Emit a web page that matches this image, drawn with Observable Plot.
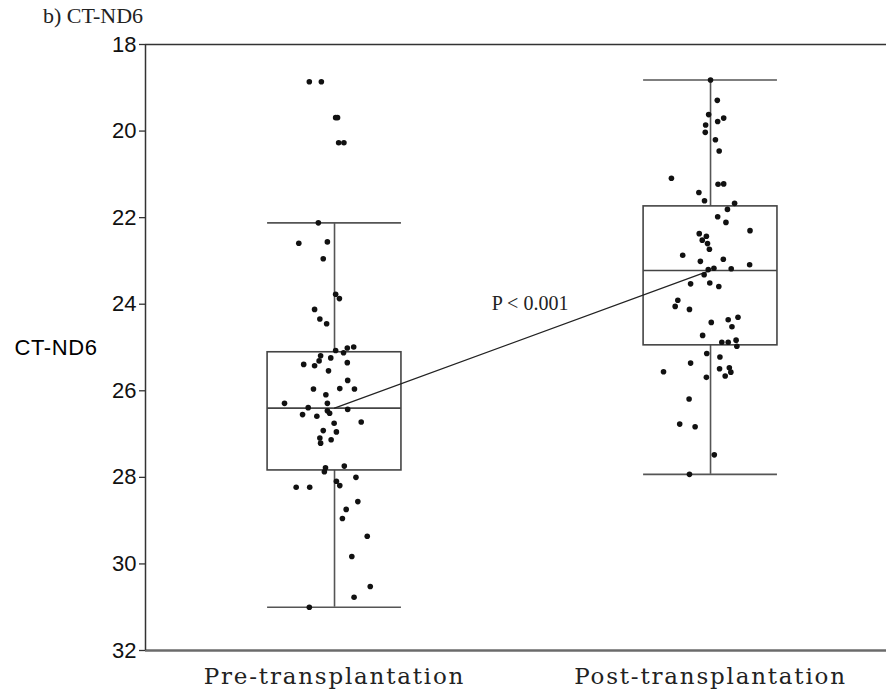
<!DOCTYPE html>
<html><head><meta charset="utf-8">
<script src="https://cdn.jsdelivr.net/npm/d3@7"></script>
<script src="https://cdn.jsdelivr.net/npm/@observablehq/plot@0.6"></script>
<style>
body{margin:0;background:#fff}
#title{position:relative;height:30px;width:886px}
#title span{position:absolute;left:43px;top:5px;font:22px "Liberation Serif",serif;line-height:1;color:#222}
#chart svg{display:block}
#chart g[aria-label="x-axis tick label"] text{letter-spacing:1.8px}
#chart g[aria-label="text"] text.ylab{letter-spacing:0.6px}
</style></head><body>
<div id="title"><span id="titletext"></span></div>
<div id="chart"></div>
<script>
const title = "b) CT-ND6";
const yLabel = "CT-ND6";
const groups = ["Pre-transplantation", "Post-transplantation"];
const groupPos = [1, 2];
const yTicks = [18, 20, 22, 24, 26, 28, 30, 32];
const yDomain = [18, 32];
// box stats: [upper whisker end, box top, median, box bottom, lower whisker end]
const preStats = [22.12, 25.11, 26.40, 27.84, 31.00];
const postStats = [18.82, 21.74, 23.22, 24.95, 27.93];
const pText = "P < 0.001";
const pAt = [1.52, 23.98];

const preValues = [18.86, 18.86, 19.69, 19.69, 20.27, 20.27, 22.12, 22.59, 22.56, 22.95,
  23.77, 23.87, 24.12, 24.34, 24.45, 25.07, 25.12, 25.01, 24.99, 25.19,
  25.24, 25.31, 25.39, 25.42, 25.35, 25.54, 25.76, 25.96, 25.95, 25.96,
  26.09, 26.29, 26.29, 26.39, 26.46, 26.52, 26.43, 26.55, 26.59, 26.75,
  26.72, 26.92, 26.95, 27.09, 27.13, 27.21, 27.78, 27.87, 27.74, 28.09,
  28.19, 28.00, 28.23, 28.23, 28.56, 28.74, 28.95, 29.36, 29.83, 30.52,
  30.77, 31.00];
const preJitter = [-0.067, -0.035, 0.003, 0.008, 0.011, 0.025, -0.043, -0.095, -0.019, -0.030,
  0.003, 0.013, -0.053, -0.039, -0.021, 0.003, 0.024, 0.034, 0.051, -0.037,
  -0.010, -0.041, -0.082, -0.053, 0.034, -0.016, 0.035, -0.056, 0.014, 0.053,
  -0.023, -0.133, -0.019, -0.070, -0.019, -0.013, 0.035, -0.085, -0.047, -0.001,
  0.071, -0.030, 0.005, -0.039, -0.009, -0.037, -0.024, -0.027, 0.026, 0.005,
  0.014, 0.057, -0.102, -0.066, 0.062, 0.031, 0.021, 0.087, 0.046, 0.095,
  0.052, -0.067];
const postValues = [18.82, 19.29, 19.62, 19.70, 19.78, 19.86, 20.03, 20.20, 20.46, 21.09,
  21.23, 21.22, 21.42, 21.61, 21.67, 21.81, 21.98, 22.11, 22.30, 22.37,
  22.43, 22.52, 22.60, 22.73, 22.87, 23.01, 22.96, 23.09, 23.20, 23.17,
  23.18, 23.32, 23.53, 23.51, 23.59, 23.91, 24.05, 24.12, 24.42, 24.36,
  24.30, 24.52, 24.72, 24.88, 24.88, 24.83, 24.97, 25.14, 25.22, 25.36,
  25.56, 25.49, 25.47, 25.57, 25.66, 25.69, 26.19, 26.77, 26.83, 27.48,
  27.93];
const postJitter = [0.000, 0.018, -0.005, 0.035, 0.019, -0.013, -0.014, 0.013, 0.023, -0.104,
  0.020, 0.035, -0.031, -0.016, 0.064, 0.045, 0.019, 0.041, 0.105, -0.030,
  -0.011, -0.022, -0.008, -0.003, -0.074, -0.027, 0.034, 0.104, -0.006, 0.009,
  0.055, -0.017, -0.053, -0.002, 0.022, -0.087, -0.094, -0.056, 0.002, 0.047,
  0.073, 0.057, -0.021, 0.030, 0.047, 0.068, 0.070, -0.010, 0.025, -0.053,
  -0.125, 0.024, 0.050, 0.054, 0.039, -0.011, -0.057, -0.082, -0.041, 0.010,
  -0.056];

document.getElementById("titletext").textContent = title;

const points = [
  ...preValues.map((v, i) => ({x: groupPos[0] + preJitter[i], y: v})),
  ...postValues.map((v, i) => ({x: groupPos[1] + postJitter[i], y: v}))
];
const statsList = [preStats, postStats];
const boxes = groupPos.map((p, i) => ({
  pos: p, hiW: statsList[i][0], top: statsList[i][1], med: statsList[i][2], bot: statsList[i][3], loW: statsList[i][4]
}));
const hw = 0.178;

const chart = Plot.plot({
  width: 886,
  height: 664,
  marginTop: 14,
  marginBottom: 44,
  marginLeft: 145,
  marginRight: 0,
  style: {background: "#fff", color: "#111"},
  x: {domain: [0.4973, 2.468], axis: null},
  y: {domain: yDomain, reverse: true, axis: null},
  marks: [
    Plot.ruleY([yDomain[0]], {stroke: "#333", strokeWidth: 1.5}),
    Plot.ruleY([yDomain[1]], {stroke: "#6b6b6b", strokeWidth: 2.5}),
    Plot.ruleX([0.4973], {stroke: "#333", strokeWidth: 1.5}),
    Plot.ruleX(boxes, {x: "pos", y1: "hiW", y2: "top", stroke: "#555", strokeWidth: 1.6}),
    Plot.ruleX(boxes, {x: "pos", y1: "bot", y2: "loW", stroke: "#555", strokeWidth: 1.6}),
    Plot.ruleY(boxes, {y: "hiW", x1: d => d.pos - hw, x2: d => d.pos + hw, stroke: "#555", strokeWidth: 1.6}),
    Plot.ruleY(boxes, {y: "loW", x1: d => d.pos - hw, x2: d => d.pos + hw, stroke: "#555", strokeWidth: 1.6}),
    Plot.rect(boxes, {x1: d => d.pos - hw, x2: d => d.pos + hw, y1: "top", y2: "bot", fill: "none", stroke: "#444", strokeWidth: 1.6}),
    Plot.ruleY(boxes, {y: "med", x1: d => d.pos - hw, x2: d => d.pos + hw, stroke: "#444", strokeWidth: 1.6}),
    Plot.line(boxes, {x: "pos", y: "med", stroke: "#222", strokeWidth: 1.3}),
    Plot.dot(points, {x: "x", y: "y", r: 2.8, fill: "#111", stroke: "none"}),
    Plot.text([pText], {x: pAt[0], y: pAt[1], text: d => d, fontFamily: "Liberation Serif", fontSize: 20, fill: "#222"}),
    Plot.axisY({ticks: yTicks, tickSize: 6, tickPadding: 3, fontSize: 22, fontFamily: "Liberation Sans", fill: "#111", stroke: "#333", strokeWidth: 1.3, label: null}),
    Plot.axisX({ticks: groupPos, tickFormat: d => groups[groupPos.indexOf(d)], tickSize: 0, tickPadding: 17, fontSize: 23, fontFamily: "DejaVu Serif", fill: "#222", label: null}),
    Plot.text([yLabel], {frameAnchor: "left", textAnchor: "start", dx: -131, text: d => d, fontFamily: "Liberation Sans", fontSize: 22, fill: "#000", className: "ylab"})
  ]
});
document.getElementById("chart").appendChild(chart);
chart.querySelectorAll("text").forEach(t => { if (t.textContent === yLabel) t.style.letterSpacing = "0.6px"; });
</script>
</body></html>
